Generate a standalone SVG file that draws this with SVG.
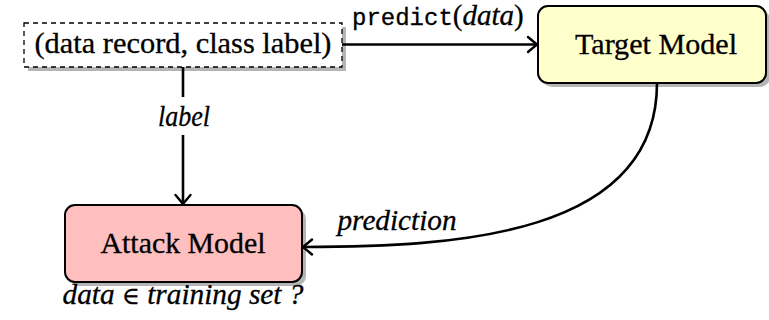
<svg xmlns="http://www.w3.org/2000/svg" width="769" height="320" viewBox="0 0 769 320">
  <style>
    .rm { font-family: 'Liberation Serif', 'Times New Roman', 'DejaVu Serif', serif; font-size: 29px; fill: #000; stroke: #000; stroke-width: 0.3px; }
    .it { font-family: 'Liberation Serif', 'Times New Roman', 'DejaVu Serif', serif; font-size: 29px; font-style: italic; fill: #000; stroke: #000; stroke-width: 0.3px; }
    .sym { font-family: 'DejaVu Serif', serif; font-style: normal; font-size: 24px; }
    .tt { font-family: 'Liberation Mono', 'DejaVu Sans Mono', monospace; font-size: 24px; fill: #000; stroke: #000; stroke-width: 0.3px; }
    .shadow { fill: #b5b5b5; }
    .node { stroke: #000; stroke-width: 2; }
    .edge { fill: none; stroke: #000; stroke-width: 2.6; }
  </style>
  <defs>
    <marker id="arr" markerUnits="userSpaceOnUse" markerWidth="20" markerHeight="20" viewBox="-12 -10 14 20" refX="0" refY="0" orient="auto">
      <path d="M -9,-7.5 Q -2.5,-2 0,0 Q -2.5,2 -9,7.5" fill="none" stroke="#000" stroke-width="2.4" stroke-linecap="round" stroke-linejoin="round"/>
    </marker>
  </defs>

  <g id="data-record">
    <rect class="shadow" x="28" y="27" width="318" height="44"/>
    <rect x="24" y="23" width="318" height="44" fill="#fff" stroke="#000" stroke-width="1.3" stroke-dasharray="5 4"/>
    <text class="rm" x="183" y="53" text-anchor="middle" textLength="297" lengthAdjust="spacingAndGlyphs">(data record, class label)</text>
  </g>

  <g id="target-model">
    <rect class="shadow" x="542" y="10" width="228" height="77" rx="10"/>
    <rect class="node" x="538" y="6" width="228" height="77" rx="10" fill="#ffffcc"/>
    <text class="rm" x="656" y="54" text-anchor="middle" textLength="162" lengthAdjust="spacingAndGlyphs">Target Model</text>
  </g>

  <g id="attack-model">
    <rect class="shadow" x="69" y="209" width="237" height="77" rx="10"/>
    <rect class="node" x="65" y="205" width="237" height="77" rx="10" fill="#ffbfbf"/>
    <text class="rm" x="183" y="253" text-anchor="middle" textLength="165" lengthAdjust="spacingAndGlyphs">Attack Model</text>
    <text class="it" x="183" y="304" text-anchor="middle" textLength="241" lengthAdjust="spacingAndGlyphs">data <tspan class="sym">∈</tspan> training set ?</text>
  </g>

  <g id="connectors">
    <path class="edge" d="M 342,44.5 L 537,44.5" marker-end="url(#arr)"/>
    <text x="352" y="25"><tspan class="tt">predict</tspan><tspan class="rm">(</tspan><tspan class="it">data</tspan><tspan class="rm">)</tspan></text>

    <path class="edge" d="M 183,67 L 183,97"/>
    <path class="edge" d="M 183,135 L 183,204" marker-end="url(#arr)"/>
    <text class="it" x="184" y="126" text-anchor="middle" textLength="52" lengthAdjust="spacingAndGlyphs">label</text>

    <path class="edge" d="M 657,83 C 657,236 455,247 303,247" marker-end="url(#arr)"/>
    <text class="it" x="397" y="230" text-anchor="middle" textLength="119" lengthAdjust="spacingAndGlyphs">prediction</text>
  </g>
</svg>
